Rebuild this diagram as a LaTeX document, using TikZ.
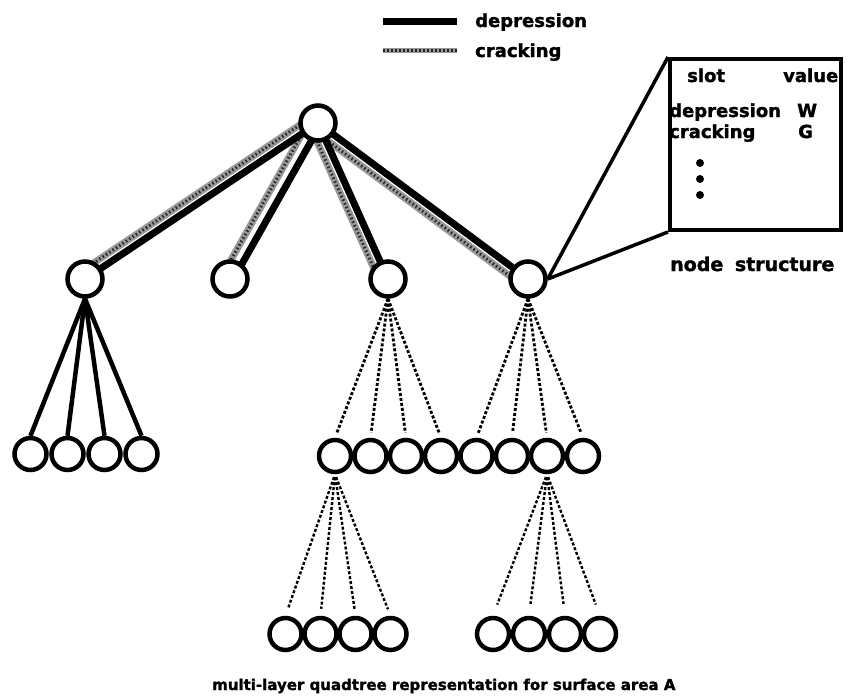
\documentclass[tikz,border=0pt]{standalone}
\usepackage{fontspec}
\setmainfont{DejaVu Sans}[BoldFeatures={FakeBold=1.5}]
\usetikzlibrary{calc,backgrounds}
\begin{document}
\begin{tikzpicture}[x=1pt,y=-1pt,
  bignode/.style={circle,draw,line width=4.5pt,fill=white,minimum size=35pt,inner sep=0pt},
  rownode/.style={circle,draw,line width=4.5pt,fill=white,minimum size=32pt,inner sep=0pt},
  deprline/.style={line width=7pt},
  crkline/.style={line width=7pt,black!40,postaction={draw,black!85,line width=3pt,dash pattern=on 1.5pt off 2.5pt}},
  subdep/.style={line width=4.5pt},
  subcrk/.style={line width=2.8pt,dash pattern=on 3pt off 2pt},
  lbl/.style={font=\fontsize{18}{20}\selectfont\bfseries,inner sep=0pt,anchor=base west},
  dotnode/.style={circle,fill,minimum size=8pt,inner sep=0pt},
]
\useasboundingbox (0,0) rectangle (850,699);
% nodes
\node[bignode] (root) at (318,123) {};
\node[bignode] (A) at (85,279) {};
\node[bignode] (B) at (230,279) {};
\node[bignode] (C) at (388,279) {};
\node[bignode] (D) at (528,279) {};
\foreach \i/\x in {1/30.5,2/67.5,3/104.5,4/141.5}
  \node[rownode] (l\i) at (\x,454) {};
\foreach \i/\x in {1/335,2/370.5,3/406,4/441,5/476.5,6/512,7/547,8/583}
  \node[rownode] (m\i) at (\x,456) {};
\foreach \i/\x in {1/285.5,2/320.5,3/355.5,4/390.5}
  \node[rownode] (p\i) at (\x,634) {};
\foreach \i/\x in {1/493,2/529,3/565,4/600}
  \node[rownode] (q\i) at (\x,634) {};
% root edges
\begin{scope}[on background layer]
  \foreach \c in {A,B,C,D}
    \draw[crkline] ($(root)!8.5pt!-90:(\c)$) -- ($(\c)!8.5pt!90:(root)$);
  \foreach \c/\s in {A/0pt,B/3pt,C/0pt,D/0pt}
    \draw[deprline] ($(root)!\s!90:(\c)$) -- ($(\c)!\s!-90:(root)$);
\end{scope}
% lower edges
\foreach \i in {1,...,4}
  \draw[subdep] (A.south) -- (l\i.north);
\foreach \i in {1,...,4}
  \draw[subcrk,shorten >=5pt] (C.south) -- (m\i.north);
\foreach \i in {5,...,8}
  \draw[subcrk,shorten >=5pt] (D.south) -- (m\i.north);
\foreach \i in {1,...,4}
  \draw[subcrk,line width=2.4pt,shorten <=3pt,shorten >=7pt] (m1.south) -- (p\i.north);
\foreach \i in {1,...,4}
  \draw[subcrk,line width=2.4pt,shorten <=3pt,shorten >=12pt] (m7.south) -- (q\i.north);
% legend
\coordinate (d1) at (383,21);
\coordinate (d2) at (457,21);
\coordinate (c1) at (383,50);
\coordinate (c2) at (457,50);
\draw[deprline] (d1) -- (d2);
\draw[crkline,line width=5pt] (c1) -- (c2);
\node[lbl] (t1) at (475,27) {depression};
\node[lbl] (t2) at (475,57) {cracking};
% node structure box
\node[draw,line width=4pt,minimum width=171pt,minimum height=171pt,inner sep=0pt] (box) at (755.5,144.5) {};
\draw[line width=3.5pt] (D.east) -- (box.north west);
\draw[line width=3.5pt] (D.east) -- (box.south west);
\node[lbl] (s1) at (687,82) {slot};
\node[lbl] (s2) at (783,82) {value};
\node[lbl] (s3) at (669,117) {depression};
\node[lbl] (s4) at (797,117) {W};
\node[lbl] (s5) at (669,138) {cracking};
\node[lbl] (s6) at (798,138) {G};
\node[dotnode] (e1) at (700,163) {};
\node[dotnode] (e2) at (700,179) {};
\node[dotnode] (e3) at (700,195) {};
\node[lbl,font=\fontsize{19}{21}\selectfont\bfseries] (ns) at (670,271) {node\hspace{5pt} structure};
\node[lbl,font=\fontsize{15}{17}\selectfont\bfseries] (cap) at (212,690) {multi-layer quadtree representation for surface area A};
\end{tikzpicture}
\end{document}
